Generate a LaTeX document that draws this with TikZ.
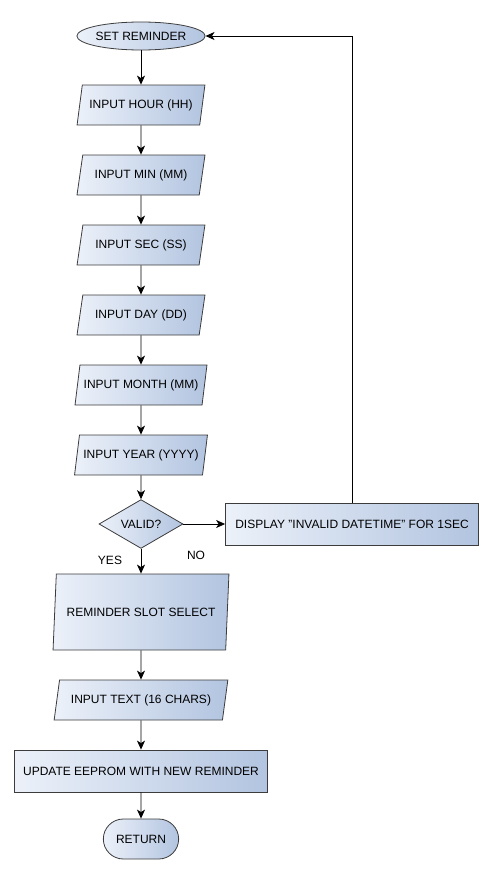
\documentclass[tikz,border=0pt]{standalone}
\usepackage{fontspec}
\setmainfont{Liberation Sans}
\usetikzlibrary{shapes.geometric, shapes.misc, positioning, arrows.meta}

\definecolor{boxleft}{RGB}{236,241,249}
\definecolor{boxright}{RGB}{178,196,224}
\definecolor{boxline}{RGB}{60,60,60}

\begin{document}
\begin{tikzpicture}
	[x=1pt, y=1pt, on grid, node distance=70pt, >={Stealth[length=9pt, width=8pt, inset=2.5pt]}, line width=0.8pt,
	 font=\fontsize{12}{14}\selectfont,
	 shade/.style={draw=boxline, left color=boxleft, right color=boxright},
	 term/.style={shade, ellipse, minimum width=113pt, minimum height=28pt, inner sep=0pt},
	 io/.style={shade, trapezium, trapezium left angle=75, trapezium right angle=105,
	            trapezium stretches=true, minimum width=128pt, minimum height=40pt, inner xsep=2pt},
	 proc/.style={shade, rectangle, minimum height=42pt},
	 decision/.style={shade, diamond, minimum width=84pt, minimum height=44pt, inner sep=0pt},
	 stop/.style={shade, rounded rectangle, minimum width=82pt, minimum height=40pt}]
	\useasboundingbox (0,0) rectangle (490,-875);
   \node[term] (set) at (141,-36) {SET REMINDER};
   \node[io] (hour) [below=69pt of set] {INPUT HOUR (HH)};
   \node[io] (min) [below=of hour] {INPUT MIN (MM)};
   \node[io] (sec) [below=of min] {INPUT SEC (SS)};
   \node[io] (day) [below=of sec] {INPUT DAY (DD)};
   \node[io, minimum width=132pt] (month) [below=of day] {INPUT MONTH (MM)};
   \node[io, minimum width=133pt] (year) [below=of month] {INPUT YEAR (YYYY)};
   \node[decision] (valid) [below=69pt of year] {VALID?};
   \node[proc, minimum width=253pt] (disp) [right=211pt of valid] {DISPLAY "INVALID DATETIME" FOR 1SEC};
   \node[io, trapezium left angle=79, trapezium right angle=101, minimum width=176pt, minimum height=76pt]
        (slot) [below=88pt of valid] {REMINDER SLOT SELECT};
   \node[io, minimum width=174pt] (text) [below=88pt of slot] {INPUT TEXT (16 CHARS)};
   \node[proc, minimum width=253pt] (eeprom) [below=71pt of text] {UPDATE EEPROM WITH NEW REMINDER};
   \node[stop] (ret) [below=68pt of eeprom] {RETURN};
   \node (yes) at (110,-560) {YES};
   \node (no) at (196,-555) {NO};
    \path[->]
    (set) edge (hour)
    (hour) edge (min)
    (min) edge (sec)
    (sec) edge (day)
    (day) edge (month)
    (month) edge (year)
    (year) edge (valid)
    (valid) edge (disp)
          edge (slot)
    (slot) edge (text)
    (text) edge (eeprom)
    (eeprom) edge (ret);
    \draw[->] (disp.north) |- (set.east);
\end{tikzpicture}
\end{document}
